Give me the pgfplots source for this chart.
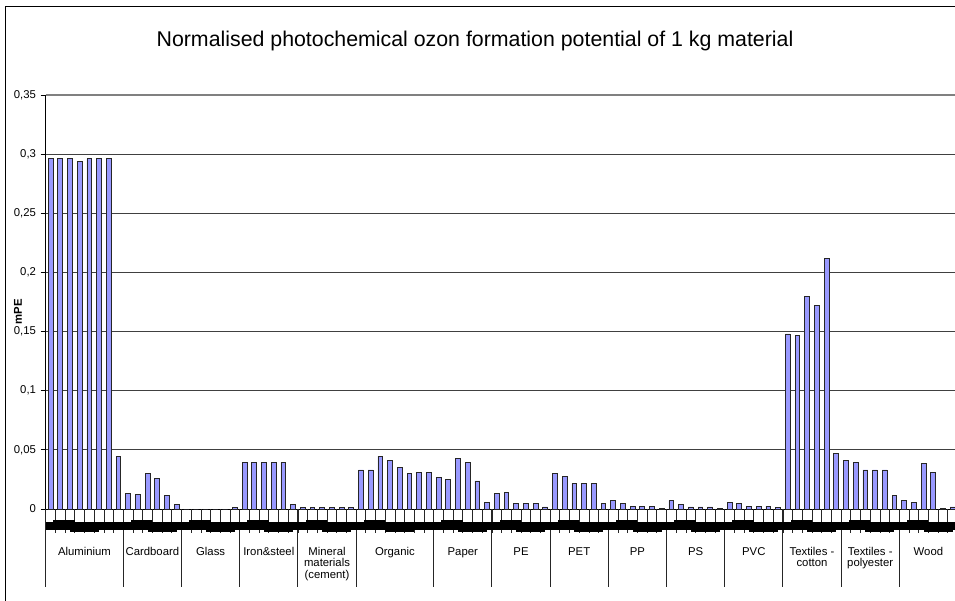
\documentclass[border=0pt]{standalone}
\usepackage{pgfplots}
\pgfplotsset{compat=1.18}
\usepackage{pgfplotstable}
\usepackage{fontspec}
\setmainfont{Liberation Sans}
\definecolor{barblue}{HTML}{9999FF}

\pgfplotstableread{
x y
0 0.296
1 0.296
2 0.296
3 0.294
4 0.296
5 0.296
6 0.296
7 0.0448
8 0.0133
9 0.0124
10 0.0304
11 0.026
12 0.0113
13 0.004
14 0
15 0
16 0
17 0
18 0
19 0.001
20 0.0395
21 0.0395
22 0.0395
23 0.0395
24 0.0395
25 0.004
26 0.0015
27 0.0015
28 0.0015
29 0.0015
30 0.0015
31 0.0015
32 0.033
33 0.033
34 0.0445
35 0.0414
36 0.0352
37 0.0299
38 0.031
39 0.031
40 0.0268
41 0.0251
42 0.0425
43 0.0395
44 0.0237
45 0.0056
46 0.013
47 0.0141
48 0.0048
49 0.0048
50 0.0048
51 0.0017
52 0.0299
53 0.0279
54 0.0214
55 0.0214
56 0.0214
57 0.0048
58 0.007
59 0.0048
60 0.0025
61 0.0025
62 0.0025
63 0.0008
64 0.007
65 0.0037
66 0.0017
67 0.0017
68 0.0017
69 0.0008
70 0.0056
71 0.0048
72 0.0025
73 0.0025
74 0.0025
75 0.001
76 0.148
77 0.1468
78 0.1795
79 0.1722
80 0.2116
81 0.0468
82 0.0414
83 0.0395
84 0.033
85 0.033
86 0.033
87 0.0113
88 0.007
89 0.0056
90 0.0383
91 0.031
92 0.0008
93 0.0017
}\datatable

\newcommand{\lblfont}{\fontsize{8.5}{10}\selectfont}

\begin{document}
\begin{tikzpicture}[x=1pt,y=1pt]
\useasboundingbox (0,0) rectangle (716.25,450);
\clip (0,0) rectangle (716.25,450);
\fill[white] (0,0) rectangle (716.25,450);
\draw[line width=0.75pt] (3.75,-10) rectangle (740,444.75);
\node[font=\fontsize{16}{19}\selectfont] at (356.25,419.25) {Normalised photochemical ozon formation potential of 1 kg material};
\node[rotate=90,font=\lblfont\bfseries] at (13.5,216) {mPE};
\begin{axis}[
  at={(34.275pt,68.25pt)}, anchor=south west,
  scale only axis, width=683.85pt, height=310.5pt,
  xmin=-0.5, xmax=93.5, ymin=0, ymax=0.35,
  axis x line*=bottom, axis y line*=left,
  axis line style={black, line width=0.75pt},
  xtick=\empty,
  ytick={0,0.05,0.1,0.15,0.2,0.25,0.3,0.35},
  yticklabel style={font=\lblfont, /pgf/number format/.cd, fixed, use comma, precision=2, assume math mode=true},
  tick align=outside, major tick length=3.75pt,
  ytick style={black, line width=0.75pt},
  ymajorgrids, grid style={black!75, line width=0.75pt},
  clip=false,
]
\draw[gray, line width=1.5pt] (axis cs:-0.5,0.35) -- (axis cs:95,0.35);
\addplot[ybar, bar width=0.5, fill=barblue, draw=black!85, line width=0.6pt] table[x=x,y=y]{\datatable};
\pgfplotsinvokeforeach{-0.5,0.5,...,93.5}{\draw[black!85,line width=0.6pt] (axis cs:#1,0) -- ([yshift=-18pt]axis cs:#1,0);}
\pgfplotsinvokeforeach{-0.5,7.5,13.5,19.5,25.5,31.5,39.5,45.5,51.5,57.5,63.5,69.5,75.5,81.5,87.5}{\draw[black!85,line width=0.75pt] (axis cs:#1,0) -- ([yshift=-58.5pt]axis cs:#1,0);}
\fill[black] ([yshift=-9.4pt]axis cs:-0.5,0) rectangle ([yshift=-15.6pt]axis cs:95,0);
\pgfplotsinvokeforeach{0.3,8.3,14.3,20.3,26.3,32.3,40.3,46.3,52.3,58.3,64.3,70.3,76.3,82.3,88.3}{\fill[black] ([yshift=-8.2pt]axis cs:#1,0) rectangle ([yshift=-10pt]axis cs:#1+2.2,0);}
\pgfplotsinvokeforeach{2,10,16,22,28,34.5,42,48,54,60,66,72,78,84,90}{\fill[black] ([yshift=-15pt]axis cs:#1,0) rectangle ([yshift=-17.2pt]axis cs:#1+3,0);}
\node[font=\lblfont, anchor=base] at ([yshift=-34.5pt]axis cs:3.5,0) {Aluminium};
\node[font=\lblfont, anchor=base] at ([yshift=-34.5pt]axis cs:10.5,0) {Cardboard};
\node[font=\lblfont, anchor=base] at ([yshift=-34.5pt]axis cs:16.5,0) {Glass};
\node[font=\lblfont, anchor=base] at ([yshift=-34.5pt]axis cs:22.5,0) {Iron\&steel};
\node[font=\lblfont, anchor=base] at ([yshift=-34.5pt]axis cs:28.5,0) {Mineral};
\node[font=\lblfont, anchor=base] at ([yshift=-43.1pt]axis cs:28.5,0) {materials};
\node[font=\lblfont, anchor=base] at ([yshift=-51.75pt]axis cs:28.5,0) {(cement)};
\node[font=\lblfont, anchor=base] at ([yshift=-34.5pt]axis cs:35.5,0) {Organic};
\node[font=\lblfont, anchor=base] at ([yshift=-34.5pt]axis cs:42.5,0) {Paper};
\node[font=\lblfont, anchor=base] at ([yshift=-34.5pt]axis cs:48.5,0) {PE};
\node[font=\lblfont, anchor=base] at ([yshift=-34.5pt]axis cs:54.5,0) {PET};
\node[font=\lblfont, anchor=base] at ([yshift=-34.5pt]axis cs:60.5,0) {PP};
\node[font=\lblfont, anchor=base] at ([yshift=-34.5pt]axis cs:66.5,0) {PS};
\node[font=\lblfont, anchor=base] at ([yshift=-34.5pt]axis cs:72.5,0) {PVC};
\node[font=\lblfont, anchor=base] at ([yshift=-34.5pt]axis cs:78.5,0) {Textiles -};
\node[font=\lblfont, anchor=base] at ([yshift=-43.1pt]axis cs:78.5,0) {cotton};
\node[font=\lblfont, anchor=base] at ([yshift=-34.5pt]axis cs:84.5,0) {Textiles -};
\node[font=\lblfont, anchor=base] at ([yshift=-43.1pt]axis cs:84.5,0) {polyester};
\node[font=\lblfont, anchor=base] at ([yshift=-34.5pt]axis cs:90.5,0) {Wood};
\end{axis}
\end{tikzpicture}
\end{document}
